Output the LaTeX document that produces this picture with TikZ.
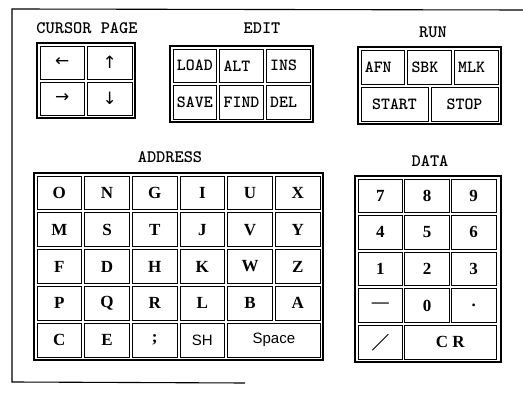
\documentclass[tikz,border=0pt]{standalone}
\usepackage{fontspec}
\setmainfont{Liberation Serif}
\newfontfamily\sansf{Liberation Sans}
\newfontfamily\arrowf{DejaVu Sans}
\begin{document}
\begin{tikzpicture}[x=1pt,y=-1pt,
  blk/.style={draw, line width=1.6pt, inner sep=0pt},
  key/.style={draw, line width=0.9pt, inner sep=0pt, font=\ttfamily\bfseries\fontsize{17}{17}\selectfont},
  ser/.style={font=\rmfamily\bfseries\fontsize{17}{17}\selectfont},
  sns/.style={font=\sansf\fontsize{15}{16}\selectfont},
  arr/.style={font=\arrowf\fontsize{17}{17}\selectfont},
  ttl/.style={font=\ttfamily\bfseries\fontsize{17.5}{18}\selectfont},
  keyL/.style={text width=36pt, align=left},
  kc/.style={minimum width=44.5pt, minimum height=33pt},
  ke/.style={minimum width=43.67pt, minimum height=33.5pt},
  kr/.style={minimum width=43.67pt, minimum height=34pt},
  krw/.style={minimum width=67pt, minimum height=34pt},
  ka/.style={minimum width=44.67pt, minimum height=33.8pt},
  kaw/.style={minimum width=92.33pt, minimum height=33.8pt},
  kd/.style={minimum width=44.67pt, minimum height=33.6pt},
  kdw/.style={minimum width=92.33pt, minimum height=33.6pt},
  frame/.style={draw, line width=1.1pt}]
\useasboundingbox (0,0) rectangle (523,395);
\fill[white] (0,0) rectangle (523,395);
% outer frame
\coordinate (tr) at (523,10);
\coordinate (tl) at (12,9);
\coordinate (bl) at (12,382);
\coordinate (br) at (245,383);
\draw[frame] (tr) -- (tl) -- (bl) -- (br);
% CURSOR PAGE
\node[ttl] (curlbl) at (87,28) {CURSOR PAGE};
\node[blk, minimum width=98pt, minimum height=75pt] (curblk) at (86,80.5) {};
\node[key,kc,arr] (kleft) at (62.25,62.5) {←};
\node[key,kc,arr] (kup) at (109.75,62.5) {↑};
\node[key,kc,arr] (kright) at (62.25,98.5) {→};
\node[key,kc,arr] (kdown) at (109.75,98.5) {↓};
% EDIT
\node[ttl] (editlbl) at (262,28) {EDIT};
\node[blk, minimum width=143pt, minimum height=76pt] (editblk) at (241.5,84) {};
\node[key,ke] (kload) at (194.83,65.75) {LOAD};
\node[key,ke,keyL] (kalt) at (241.5,65.75) {ALT};
\node[key,ke,keyL] (kins) at (288.17,65.75) {INS};
\node[key,ke] (ksave) at (194.83,102.25) {SAVE};
\node[key,ke] (kfind) at (241.5,102.25) {FIND};
\node[key,ke,keyL] (kdel) at (288.17,102.25) {DEL};
% RUN
\node[ttl] (runlbl) at (433,32) {RUN};
\node[blk, minimum width=143pt, minimum height=77pt] (runblk) at (429.5,85.5) {};
\node[key,kr,keyL] (kafn) at (382.83,67) {AFN};
\node[key,kr,keyL] (ksbk) at (429.5,67) {SBK};
\node[key,kr,keyL] (kmlk) at (476.17,67) {MLK};
\node[key,krw] (kstart) at (394.5,104) {START};
\node[key,krw] (kstop) at (464.5,104) {STOP};
% ADDRESS
\node[ttl] (addrlbl) at (170,157) {ADDRESS};
\node[blk, minimum width=289pt, minimum height=187pt] (addrblk) at (178.5,266.5) {};
\foreach \t [count=\i] in {O,N,G,I,U,X} {
  \pgfmathsetmacro\xx{59.33+47.67*(\i-1)}
  \node[key,ka,ser] (a1\i) at (\xx,192.9) {\t};
}
\foreach \t [count=\i] in {M,S,T,J,V,Y} {
  \pgfmathsetmacro\xx{59.33+47.67*(\i-1)}
  \node[key,ka,ser] (a2\i) at (\xx,229.7) {\t};
}
\foreach \t [count=\i] in {F,D,H,K,W,Z} {
  \pgfmathsetmacro\xx{59.33+47.67*(\i-1)}
  \node[key,ka,ser] (a3\i) at (\xx,266.5) {\t};
}
\foreach \t [count=\i] in {P,Q,R,L,B,A} {
  \pgfmathsetmacro\xx{59.33+47.67*(\i-1)}
  \node[key,ka,ser] (a4\i) at (\xx,303.3) {\t};
}
\node[key,ka,ser] (a51) at (59.33,340.1) {C};
\node[key,ka,ser] (a52) at (107,340.1) {E};
\node[key,ka,ser] (a53) at (154.67,340.1) {;};
\node[key,ka,sns] (a54) at (202.33,340.1) {SH};
\node[key,kaw,sns] (a55) at (273.83,340.1) {Space};
% DATA
\node[ttl] (datalbl) at (430,161) {DATA};
\node[blk, minimum width=146pt, minimum height=186pt] (datablk) at (428,269) {};
\foreach \t [count=\i] in {7,8,9} {
  \pgfmathsetmacro\xx{380.33+46.67*(\i-1)}
  \node[key,kd,ser] (d1\i) at (\xx,195.8) {\t};
}
\foreach \t [count=\i] in {4,5,6} {
  \pgfmathsetmacro\xx{380.33+46.67*(\i-1)}
  \node[key,kd,ser] (d2\i) at (\xx,232.4) {\t};
}
\foreach \t [count=\i] in {1,2,3} {
  \pgfmathsetmacro\xx{380.33+46.67*(\i-1)}
  \node[key,kd,ser] (d3\i) at (\xx,269) {\t};
}
\node[key,kd,ser] (d41) at (380.33,305.6) {—};
\node[key,kd,ser] (d42) at (427,305.6) {0};
\node[key,kd,ser] (d43) at (473.67,305.6) {.};
\node[key,kd] (kslash) at (380.33,342.2) {};
\draw[line width=1pt] ([shift={(-8,8)}]kslash.center) -- ([shift={(8,-8)}]kslash.center);
\node[key,kdw,ser] (kcr) at (450.33,342.2) {C R};
\end{tikzpicture}
\end{document}
